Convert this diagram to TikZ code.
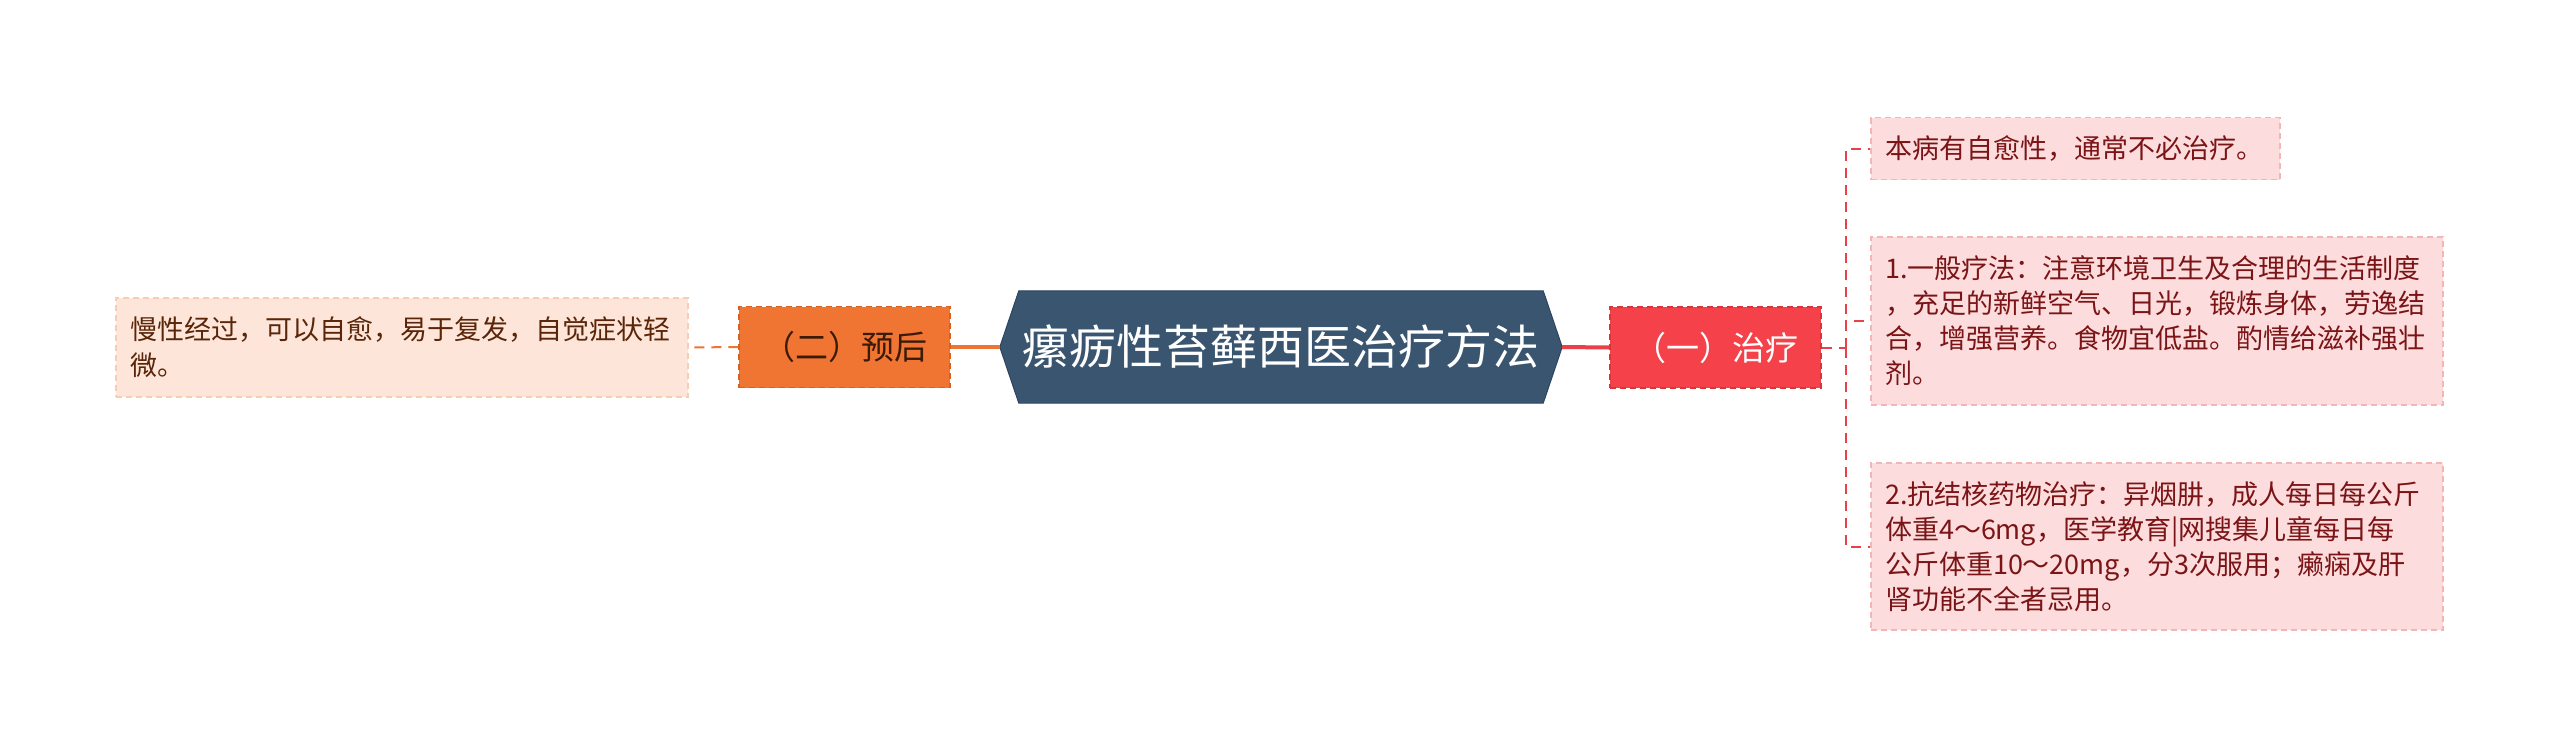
\documentclass[tikz,border=0pt]{standalone}
\usepackage{fontspec}
\setmainfont{Noto Sans CJK SC}
\usetikzlibrary{backgrounds}
\definecolor{rootc}{HTML}{3A5570}
\definecolor{rootb}{HTML}{2C4560}
\definecolor{treatc}{HTML}{F5424A}
\definecolor{treatb}{HTML}{D8343C}
\definecolor{progc}{HTML}{F07532}
\definecolor{progb}{HTML}{D8611F}
\definecolor{progt}{HTML}{3B1A08}
\definecolor{leafc}{HTML}{FCDCDC}
\definecolor{leafb}{HTML}{F3B6B6}
\definecolor{leaft}{HTML}{7B1416}
\definecolor{lleafc}{HTML}{FDE6D9}
\definecolor{lleafb}{HTML}{F7CDB6}
\definecolor{lleaft}{HTML}{5A2508}
\definecolor{lineR}{HTML}{E8414A}
\definecolor{lineO}{HTML}{EE7434}
\tikzset{
  rootbox/.style={minimum width=524pt, minimum height=112pt, inner sep=0pt, text=white,
    font=\fontsize{47}{56}\selectfont},
  branchbox/.style={minimum width=211pt, minimum height=81pt, inner sep=0pt,
    line width=1.2pt, dash pattern=on 6pt off 4pt, font=\fontsize{33}{40}\selectfont},
  treatbox/.style={branchbox, fill=treatc, draw=treatb, text=white},
  progbox/.style={branchbox, fill=progc, draw=progb, text=progt},
  leafbox/.style={fill=leafc, draw=leafb, line width=1.2pt, dash pattern=on 6pt off 4pt,
    text=leaft, align=left, inner xsep=14pt, inner ysep=0pt, text width=544pt,
    font=\fontsize{27}{35}\selectfont},
  lleafbox/.style={leafbox, fill=lleafc, draw=lleafb, text=lleaft,
    font=\fontsize{27}{36}\selectfont},
  mainR/.style={draw=lineR, line width=4pt},
  mainO/.style={draw=lineO, line width=4pt},
  dashR/.style={draw=lineR, line width=2pt, dash pattern=on 10pt off 7pt},
  dashO/.style={draw=lineO, line width=2pt, dash pattern=on 10pt off 7pt},
}
\begin{document}
\begin{tikzpicture}[x=1pt,y=-1pt]
\useasboundingbox (0,0) rectangle (2560,747);

\node[rootbox] (root) at (1281,347) {瘰疬性苔藓西医治疗方法};
\coordinate (rootL) at ([xshift=-19pt]root.west);
\coordinate (rootR) at ([xshift=19pt]root.east);
\begin{scope}[on background layer]
  \fill[white] (0,0) rectangle (2560,747);
  \filldraw[fill=rootc, draw=rootb, line width=1pt]
    (root.north west) -- (root.north east) -- (rootR) -- (root.south east)
    -- (root.south west) -- (rootL) -- cycle;
\end{scope}

\node[treatbox] (treat) at (1715.5,347.5) {（一）治疗};
\node[progbox] (prog) at (844.5,347) {（二）预后};

\node[lleafbox, minimum height=99pt] (lleaf) at (402,347.5)
  {慢性经过，可以自愈，易于复发，自觉症状轻\\微。};

\node[leafbox, text width=381pt, minimum height=62pt] (leaf1) at (2075.5,148.5)
  {本病有自愈性，通常不必治疗。};
\node[leafbox, minimum height=168pt] (leaf2) at (2157,321)
  {1.一般疗法：注意环境卫生及合理的生活制度\\，充足的新鲜空气、日光，锻炼身体，劳逸结\\合，增强营养。食物宜低盐。酌情给滋补强壮\\剂。};
\node[leafbox, minimum height=167pt] (leaf3) at (2157,546.5)
  {2.抗结核药物治疗：异烟肼，成人每日每公斤\\体重4～6mg，医学教育|网搜集儿童每日每\\公斤体重10～20mg，分3次服用；癞痫及肝\\肾功能不全者忌用。};

\draw[mainR] (rootR) -- (treat.west);
\draw[mainO] (rootL) -- (prog.east);

\coordinate (br) at (1846,347.5);
\draw[dashR] (treat.east) -- (br);
\draw[dashR] (br) |- (leaf1.west);
\draw[dashR] (br) |- (leaf2.west);
\draw[dashR] (br) |- (leaf3.west);
\draw[dashO] (prog.west) -- (lleaf.east);
\end{tikzpicture}
\end{document}
